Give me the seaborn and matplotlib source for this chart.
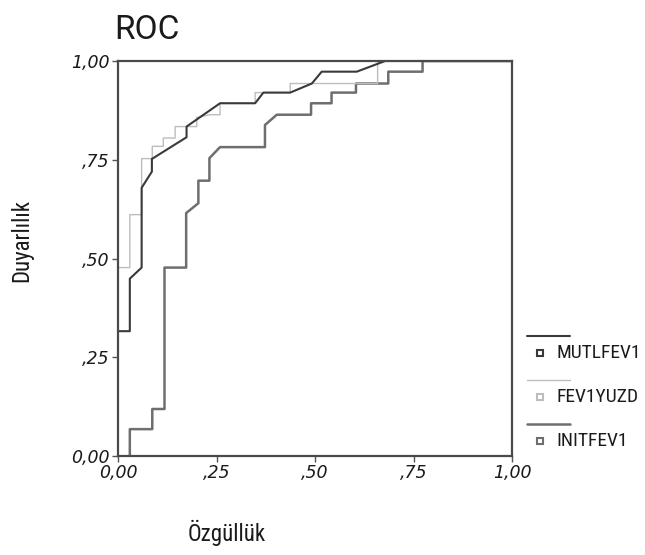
import pandas as pd
import seaborn as sns
import matplotlib.pyplot as plt
from matplotlib.lines import Line2D
from matplotlib import font_manager

# ROC egrileri (1 - ozgulluk, duyarlilik), resimden okunan noktalar
mutl_x = [0.0, 0.030, 0.030, 0.060, 0.060, 0.086, 0.086, 0.174, 0.174, 0.259, 0.348,
          0.369, 0.437, 0.492, 0.517, 0.606, 0.678, 1.0]
mutl_y = [0.316, 0.316, 0.449, 0.477, 0.679, 0.720, 0.752, 0.807, 0.834, 0.893, 0.893,
          0.920, 0.920, 0.943, 0.973, 0.973, 1.0, 1.0]

fev_x = [0.0, 0.030, 0.030, 0.060, 0.060, 0.087, 0.087, 0.115, 0.115, 0.145, 0.145,
         0.174, 0.200, 0.200, 0.233, 0.259, 0.259, 0.348, 0.348, 0.437, 0.437, 0.659,
         0.659, 1.0]
fev_y = [0.477, 0.477, 0.611, 0.611, 0.753, 0.753, 0.784, 0.784, 0.805, 0.805, 0.834,
         0.834, 0.834, 0.857, 0.864, 0.864, 0.893, 0.893, 0.920, 0.920, 0.943, 0.943,
         1.0, 1.0]

init_x = [0.030, 0.030, 0.087, 0.087, 0.118, 0.118, 0.173, 0.173, 0.204, 0.204, 0.232,
          0.232, 0.259, 0.373, 0.373, 0.403, 0.490, 0.490, 0.542, 0.542, 0.604, 0.604,
          0.686, 0.686, 0.773, 0.773, 1.0]
init_y = [0.0, 0.068, 0.068, 0.119, 0.119, 0.477, 0.477, 0.615, 0.640, 0.697, 0.697,
          0.754, 0.782, 0.782, 0.838, 0.864, 0.864, 0.893, 0.893, 0.920, 0.920, 0.943,
          0.943, 0.973, 0.973, 1.0, 1.0]

names = ["MUTLFEV1", "FEV1YUZD", "INITFEV1"]
colors = {"MUTLFEV1": "#3a3a3a", "FEV1YUZD": "#bdbdbd", "INITFEV1": "#6e6e6e"}
widths = {"MUTLFEV1": 1.5, "FEV1YUZD": 1.0, "INITFEV1": 1.8}
ticks = [0.0, 0.25, 0.5, 0.75, 1.0]
tick_labels = ["0,00", ",25", ",50", ",75", "1,00"]

frames = []
for name, xs, ys in zip(names, [mutl_x, fev_x, init_x], [mutl_y, fev_y, init_y]):
    frames.append(pd.DataFrame({"x": xs, "y": ys, "seri": name, "sira": range(len(xs))}))
data = pd.concat(frames, ignore_index=True)

sns.set_style("white")

# dar (condensed) bir yazi tipi bul
installed = {f.name for f in font_manager.fontManager.ttflist}
narrow = [n for n in ["Roboto Condensed", "Liberation Sans Narrow", "DejaVu Sans Condensed",
                      "Open Sans Condensed"] if n in installed]
narrow_fam = narrow + ["DejaVu Sans"]
plt.rcParams["font.family"] = ["DejaVu Sans"]

fig = plt.figure(figsize=(6.45, 5.55), dpi=100)
ax = fig.add_axes([118 / 645, 1 - 456 / 555, 394 / 645, 395 / 555])

# ciz: once INITFEV1, sonra acik gri, en ustte koyu
for name in ["INITFEV1", "FEV1YUZD", "MUTLFEV1"]:
    sns.lineplot(data=data[data["seri"] == name], x="x", y="y", sort=False,
                 estimator=None, color=colors[name], lw=widths[name], ax=ax,
                 legend=False)

ax.set_xlim(0, 1)
ax.set_ylim(0, 1)
ax.set_xticks(ticks)
ax.set_xticklabels(tick_labels, fontstyle="italic", fontsize=12.5)
ax.set_yticks(ticks)
ax.set_yticklabels(tick_labels, fontstyle="italic", fontsize=12.5)
ax.tick_params(axis="both", direction="out", length=4, width=1, color="#555555",
               pad=2, labelcolor="#1a1a1a", bottom=True, left=True)
for s in ax.spines.values():
    s.set_color("#4a4a4a")
    s.set_linewidth(1.6)
ax.set_xlabel("")
ax.set_ylabel("")

fig.text(147 / 645, 1 - 30 / 555, "ROC", fontsize=24, ha="center", va="center",
         color="#1a1a1a", family=["Roboto", "DejaVu Sans"])
fig.text(22 / 645, 1 - 240 / 555, "Duyarlılık", fontsize=16.5, rotation=90,
         ha="center", va="center", color="#1a1a1a", family=narrow_fam)
fig.text(227 / 645, 1 - 533 / 555, "Özgüllük", fontsize=16.5, ha="center",
         va="center", color="#1a1a1a", family=narrow_fam)

# SPSS tarzi lejant: ustte cizgi, altta kare isaret ve etiket
for i, name in enumerate(names):
    ly = 1 - (336 + 44 * i) / 555
    my = 1 - (353 + 44 * i) / 555
    fig.add_artist(Line2D([527 / 645, 570 / 645], [ly, ly], color=colors[name],
                          lw=widths[name], transform=fig.transFigure))
    fig.add_artist(Line2D([540 / 645], [my], marker="s", markersize=5,
                          markerfacecolor="white", markeredgecolor=colors[name],
                          markeredgewidth=1.5, linestyle="none",
                          transform=fig.transFigure))
    fig.text(556 / 645, my, name, fontsize=14, va="center", ha="left",
             color="#1a1a1a", family=narrow_fam)

fig.savefig("out.png", dpi=100)
